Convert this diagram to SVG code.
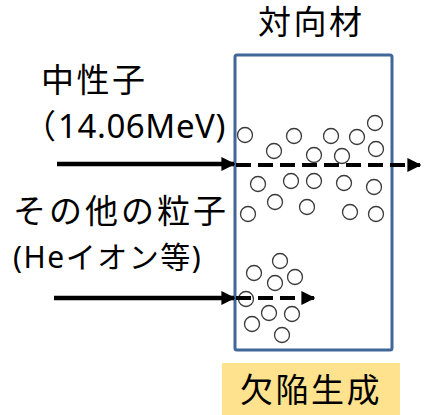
<svg xmlns="http://www.w3.org/2000/svg" width="426" height="415" viewBox="0 0 426 415">
<style>
.t{font-family:"Noto Sans","Noto Sans CJK JP",sans-serif;fill:#000}
.c{fill:#fff;stroke:#3a3a3a;stroke-width:1.3}
.solid{stroke:#000;stroke-width:4.5;fill:none}
.dash{stroke:#000;stroke-width:4;fill:none;stroke-dasharray:15 7}
</style>
<defs>
<marker id="ah" viewBox="0 0 10 10" refX="9" refY="5" markerUnits="userSpaceOnUse" markerWidth="14" markerHeight="14" orient="auto">
<path d="M0,0 L10,5 L0,10 z" fill="#000"/>
</marker>
</defs>
<g id="label-bg"><rect x="222" y="363" width="178" height="52" fill="#fee28e"/></g>
<g id="material">
<rect x="235" y="55" width="157" height="295" rx="2" fill="#fff" stroke="#41669a" stroke-width="3"/>
<text class="t" x="258" y="34" font-size="33" letter-spacing="2.5">対向材</text>
</g>
<g id="defects-upper">
<circle class="c" cx="245" cy="135" r="7.5"/>
<circle class="c" cx="294" cy="136" r="7.5"/>
<circle class="c" cx="331" cy="136" r="7.5"/>
<circle class="c" cx="357" cy="137" r="7.5"/>
<circle class="c" cx="375" cy="123" r="7.5"/>
<circle class="c" cx="274" cy="151" r="7.5"/>
<circle class="c" cx="314" cy="155" r="7.5"/>
<circle class="c" cx="342" cy="156" r="7.5"/>
<circle class="c" cx="376" cy="149" r="7.5"/>
<circle class="c" cx="258" cy="184" r="7.5"/>
<circle class="c" cx="291" cy="181" r="7.5"/>
<circle class="c" cx="314" cy="181" r="7.5"/>
<circle class="c" cx="344" cy="183" r="7.5"/>
<circle class="c" cx="374" cy="187" r="7.5"/>
<circle class="c" cx="275" cy="202" r="7.5"/>
<circle class="c" cx="307" cy="207" r="7.5"/>
<circle class="c" cx="350" cy="212" r="7.5"/>
<circle class="c" cx="376" cy="214" r="7.5"/>
<circle class="c" cx="248" cy="214" r="7.5"/>
</g>
<g id="defects-lower">
<circle class="c" cx="280" cy="261" r="7.5"/>
<circle class="c" cx="254" cy="273" r="7.5"/>
<circle class="c" cx="295" cy="277" r="7.5"/>
<circle class="c" cx="275" cy="283" r="7.5"/>
<circle class="c" cx="246" cy="299" r="7.5"/>
<circle class="c" cx="269" cy="313" r="7.5"/>
<circle class="c" cx="292" cy="314" r="7.5"/>
<circle class="c" cx="252" cy="324" r="7.5"/>
<circle class="c" cx="282" cy="335" r="7.5"/>
</g>
<g id="connectors">
<line class="solid" x1="57" y1="164" x2="234" y2="164" marker-end="url(#ah)"/>
<line class="dash" x1="236" y1="165" x2="420" y2="165" marker-end="url(#ah)"/>
<line class="solid" x1="54" y1="298" x2="234" y2="298" marker-end="url(#ah)"/>
<line class="dash" x1="236" y1="298" x2="314" y2="298" marker-end="url(#ah)"/>
</g>
<g id="neutron">
<text class="t" x="41" y="92" font-size="33" letter-spacing="2.5">中性子</text>
<text class="t" y="138" font-size="33" letter-spacing="0.6"><tspan x="23">（</tspan><tspan x="58">14.06MeV)</tspan></text>
</g>
<g id="other">
<text class="t" x="13" y="223" font-size="33" letter-spacing="3">その他の粒子</text>
<text class="t" x="13" y="268" font-size="30" letter-spacing="1.5">(Heイオン等)</text>
</g>
<g id="result">
<text class="t" x="240" y="402" font-size="33" letter-spacing="2.5">欠陥生成</text>
</g>
</svg>
